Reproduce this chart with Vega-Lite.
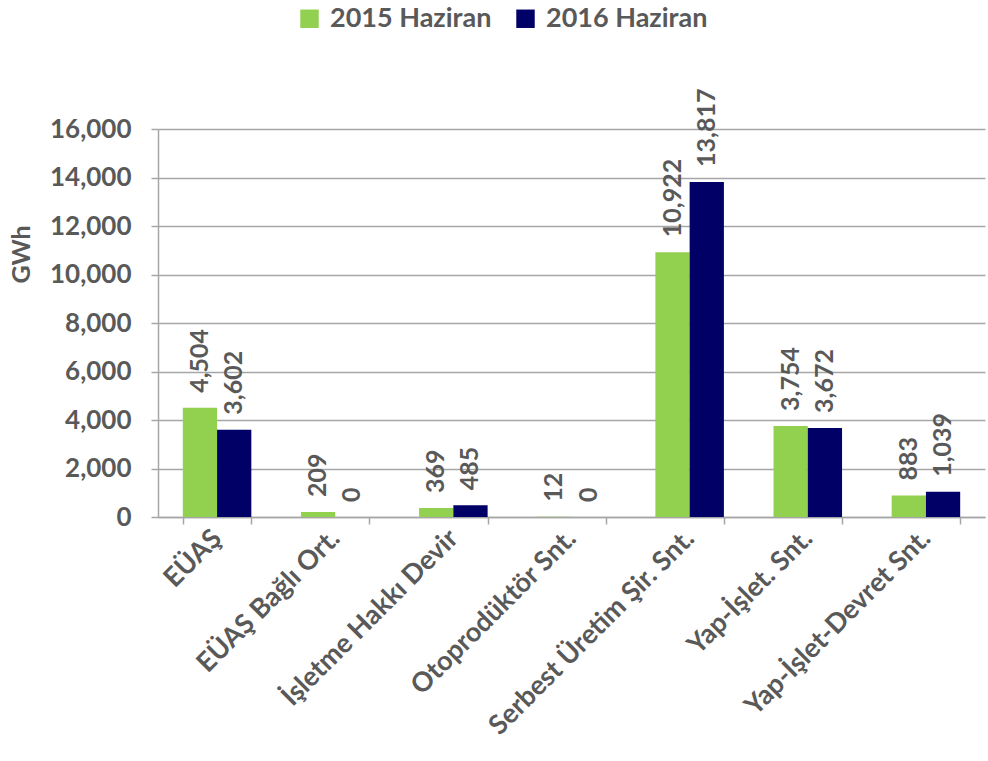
{
  "$schema": "https://vega.github.io/schema/vega-lite/v6.json",
  "width": 827,
  "height": 388,
  "autosize": {"type": "none"},
  "padding": {"left": 158, "top": 129, "right": 3, "bottom": 244},
  "background": "white",
  "config": {
    "view": {"stroke": null},
    "font": "Lato",
    "axis": {"labelFont": "Lato", "titleFont": "Lato", "labelFontWeight": "bold", "titleFontWeight": "bold", "labelColor": "#595959", "titleColor": "#595959", "domainColor": "#a6a6a6", "tickColor": "#a6a6a6", "gridColor": "#a6a6a6", "tickSize": 7, "domainWidth": 1.5, "gridWidth": 1.5, "tickWidth": 1.5},
    "legend": {"labelFont": "Lato", "labelFontWeight": "bold", "labelColor": "#595959", "labelFontSize": 27, "labelLimit": 400}
  },
  "data": {
    "values": [
      {"cat": "EÜAŞ", "series": "2015 Haziran", "value": 4504, "label": "4,504"},
      {"cat": "EÜAŞ", "series": "2016 Haziran", "value": 3602, "label": "3,602"},
      {"cat": "EÜAŞ Bağlı Ort.", "series": "2015 Haziran", "value": 209, "label": "209"},
      {"cat": "EÜAŞ Bağlı Ort.", "series": "2016 Haziran", "value": 0, "label": "0"},
      {"cat": "İşletme Hakkı Devir", "series": "2015 Haziran", "value": 369, "label": "369"},
      {"cat": "İşletme Hakkı Devir", "series": "2016 Haziran", "value": 485, "label": "485"},
      {"cat": "Otoprodüktör Snt.", "series": "2015 Haziran", "value": 12, "label": "12"},
      {"cat": "Otoprodüktör Snt.", "series": "2016 Haziran", "value": 0, "label": "0"},
      {"cat": "Serbest Üretim Şir. Snt.", "series": "2015 Haziran", "value": 10922, "label": "10,922"},
      {"cat": "Serbest Üretim Şir. Snt.", "series": "2016 Haziran", "value": 13817, "label": "13,817"},
      {"cat": "Yap-İşlet. Snt.", "series": "2015 Haziran", "value": 3754, "label": "3,754"},
      {"cat": "Yap-İşlet. Snt.", "series": "2016 Haziran", "value": 3672, "label": "3,672"},
      {"cat": "Yap-İşlet-Devret Snt.", "series": "2015 Haziran", "value": 883, "label": "883"},
      {"cat": "Yap-İşlet-Devret Snt.", "series": "2016 Haziran", "value": 1039, "label": "1,039"}
    ]
  },
  "encoding": {
    "x": {"field": "cat", "type": "nominal", "sort": null, "scale": {"paddingInner": 0.42, "paddingOuter": 0.21},
      "axis": {"title": null, "labelAngle": -45, "labelAlign": "right", "labelBaseline": "middle", "labelPadding": 10, "labelFontSize": 27, "tickBand": "extent", "ticks": true, "grid": false, "labelLimit": 500}},
    "xOffset": {"field": "series", "type": "nominal", "scale": {"paddingInner": 0, "paddingOuter": 0}},
    "y": {"field": "value", "type": "quantitative", "scale": {"domain": [0, 16000], "nice": false},
      "axis": {"title": "GWh", "titleFontSize": 25, "titleX": -137, "titleY": 125, "titleAngle": 270, "titleAlign": "center", "titleBaseline": "middle", "values": [0, 2000, 4000, 6000, 8000, 10000, 12000, 14000, 16000], "format": ",d", "labelFontSize": 26, "labelPadding": 20, "grid": true}}
  },
  "layer": [
    {
      "mark": {"type": "bar"},
      "encoding": {
        "color": {"field": "series", "type": "nominal", "scale": {"domain": ["2015 Haziran", "2016 Haziran"], "range": ["#92D050", "#000066"]},
          "legend": {"title": null, "orient": "none", "legendX": 138, "legendY": -124, "direction": "horizontal", "symbolType": "square", "symbolSize": 340, "symbolStrokeWidth": 0, "columnPadding": 20, "labelOffset": 7}}
      }
    },
    {
      "mark": {"type": "text", "angle": 270, "align": "left", "baseline": "middle", "dx": 15, "font": "Lato", "fontWeight": "bold", "fontSize": 25, "color": "#595959"},
      "encoding": {"text": {"field": "label"}}
    }
  ]
}
